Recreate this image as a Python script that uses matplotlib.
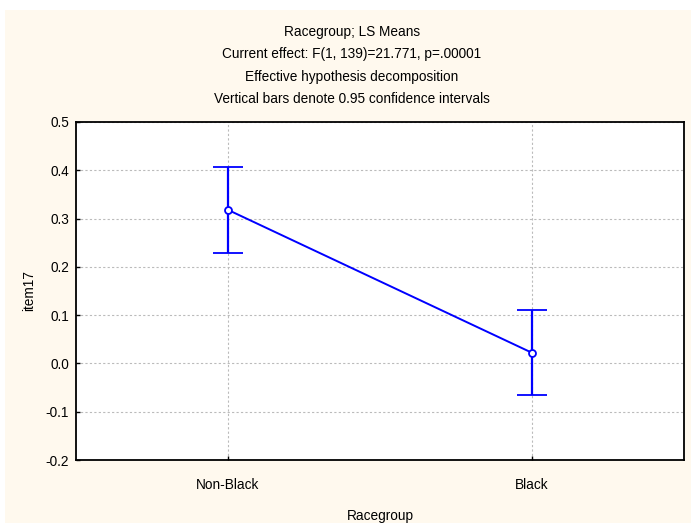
import matplotlib
matplotlib.use("Agg")
import matplotlib.pyplot as plt
from matplotlib.patches import Rectangle

categories = ["Non-Black", "Black"]
means = [0.318, 0.022]
upper = [0.407, 0.110]
lower = [0.229, -0.065]
yticks = [-0.2, -0.1, 0.0, 0.1, 0.2, 0.3, 0.4, 0.5]
title_lines = ["Racegroup; LS Means",
               "Current effect: F(1, 139)=21.771, p=.00001",
               "Effective hypothesis decomposition",
               "Vertical bars denote 0.95 confidence intervals"]

plt.rcParams['font.family'] = ['Liberation Sans', 'DejaVu Sans']
FS = 9.8
W, H = 691, 523
fig = plt.figure(figsize=(W/100, H/100), dpi=100)
fig.patch.set_facecolor('white')
fig.patches.append(Rectangle((5/W, 0), 1 - 5/W, 1 - 10/H, transform=fig.transFigure,
                             facecolor='#FFF9EE', edgecolor='none', zorder=-10))

ax = fig.add_axes([76/W, 1 - 460/H, (684 - 76)/W, (460 - 122)/H])
ax.set_facecolor('white')
x = list(range(len(categories)))
err_lo = [m - l for m, l in zip(means, lower)]
err_hi = [u - m for m, u in zip(means, upper)]
ax.errorbar(x, means, yerr=[err_lo, err_hi], color='#0000FF', lw=1.4,
            elinewidth=1.6, capsize=11, capthick=1.6, marker='o', ms=5,
            mfc='white', mec='#0000FF', mew=1.3, zorder=3)

ax.set_xlim(-0.5, 1.5)
ax.set_ylim(-0.2, 0.5)
ax.set_xticks(x)
ax.set_xticklabels(categories, fontsize=FS)
ax.set_yticks(yticks)
ax.set_yticklabels([f"{v:.1f}" for v in yticks], fontsize=FS)
ax.tick_params(direction='in', length=3, width=1)
ax.tick_params(axis='y', pad=5)
ax.tick_params(axis='x', pad=13)
ax.grid(True, color='#BBBBBB', linestyle=(0, (2, 2)), linewidth=0.8)
ax.set_axisbelow(True)
for s in ax.spines.values():
    s.set_linewidth(1.3)

ax.set_ylabel("item17", fontsize=FS, labelpad=7)
ax.set_xlabel("Racegroup", fontsize=FS, labelpad=12)

ys = [32, 54, 77, 99]
for t, yy in zip(title_lines, ys):
    fig.text(352/W, 1 - yy/H, t, ha='center', va='center', fontsize=FS)

fig.savefig("out.png", dpi=100, facecolor=fig.get_facecolor())
